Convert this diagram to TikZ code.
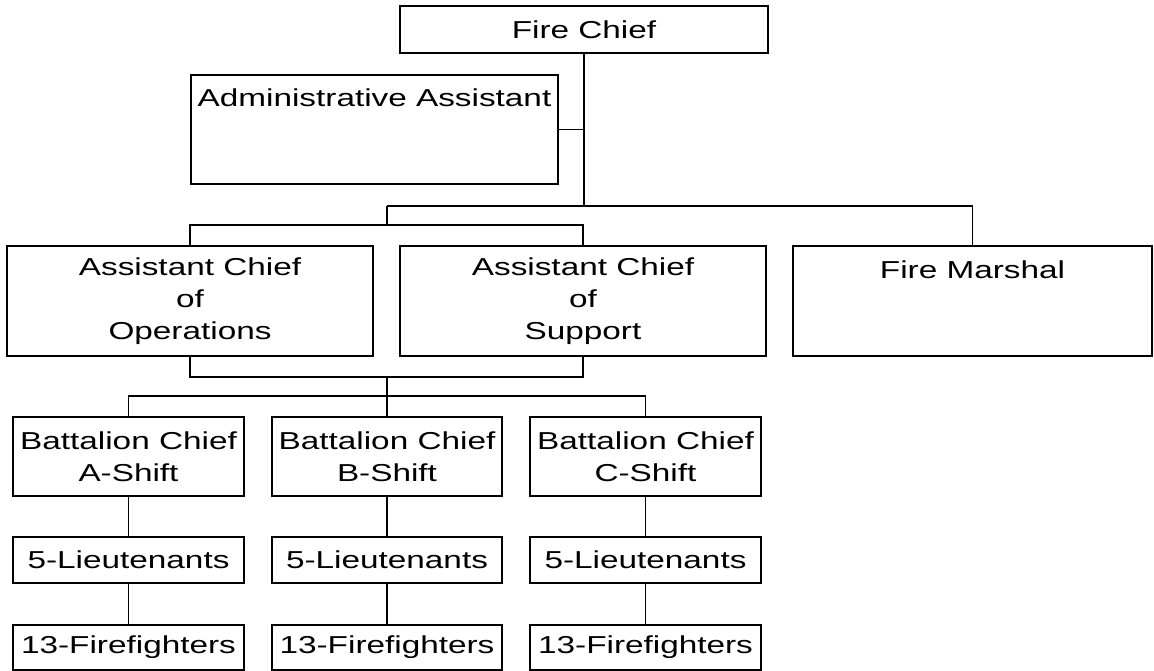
\documentclass[tikz,border=0pt]{standalone}
\usepackage{fontspec}
\setmainfont{Liberation Sans}[FakeStretch=1.36]
\begin{document}
\begin{tikzpicture}[x=1pt,y=-1pt,
  line width=1.8pt,
  box/.style={draw, rectangle, inner sep=0pt, align=center,
    font=\fontsize{24.5}{31.7}\selectfont},
]
\useasboundingbox (0,0) rectangle (1154,671);
% top level
\node[box, minimum width=368, minimum height=47] (chief) at (584,29.5) {Fire Chief};
\node[box, minimum width=367, minimum height=109] (admin) at (374.5,129.5) {Administrative Assistant\\\mbox{}\\\mbox{}};
% second level
\node[box, minimum width=366, minimum height=110] (ops) at (190,301) {Assistant Chief\\of\\Operations};
\node[box, minimum width=366, minimum height=110] (sup) at (583,301) {Assistant Chief\\of\\Support};
\node[box, minimum width=359, minimum height=110] (fm) at (972.5,301) {Fire Marshal\\\mbox{}\\\mbox{}};
% battalion chiefs
\node[box, minimum width=231, minimum height=79] (bcA) at (128.5,456.5) {Battalion Chief\\A-Shift};
\node[box, minimum width=230, minimum height=79] (bcB) at (387,456.5) {Battalion Chief\\B-Shift};
\node[box, minimum width=231, minimum height=79] (bcC) at (645.5,456.5) {Battalion Chief\\C-Shift};
% lieutenants
\node[box, minimum width=231, minimum height=46] (ltA) at (128.5,560) {5-Lieutenants};
\node[box, minimum width=230, minimum height=46] (ltB) at (387,560) {5-Lieutenants};
\node[box, minimum width=231, minimum height=46] (ltC) at (645.5,560) {5-Lieutenants};
% firefighters
\node[box, minimum width=231, minimum height=45] (ffA) at (128.5,647.5) {13-Firefighters};
\node[box, minimum width=230, minimum height=45] (ffB) at (387,647.5) {13-Firefighters};
\node[box, minimum width=231, minimum height=45] (ffC) at (645.5,647.5) {13-Firefighters};
% junctions
\coordinate (t1) at (387,206);
\coordinate (t2) at (387,225);
\coordinate (b1) at (387,377);
\coordinate (b2) at (387,396);
% connectors
\draw (chief.south) -- (chief.south |- t1);
\draw (admin.east) -- (admin.east -| chief.south);
\draw (t1) -| (fm.north);
\draw (t1) -- (t2);
\draw (ops.north) |- (t2) -| (sup.north);
\draw (ops.south) |- (b1) -| (sup.south);
\draw (b1) -- (bcB.north);
\draw (bcA.north) |- (b2) -| (bcC.north);
\draw (bcA) -- (ltA) -- (ffA);
\draw (bcB) -- (ltB) -- (ffB);
\draw (bcC) -- (ltC) -- (ffC);
\end{tikzpicture}
\end{document}
